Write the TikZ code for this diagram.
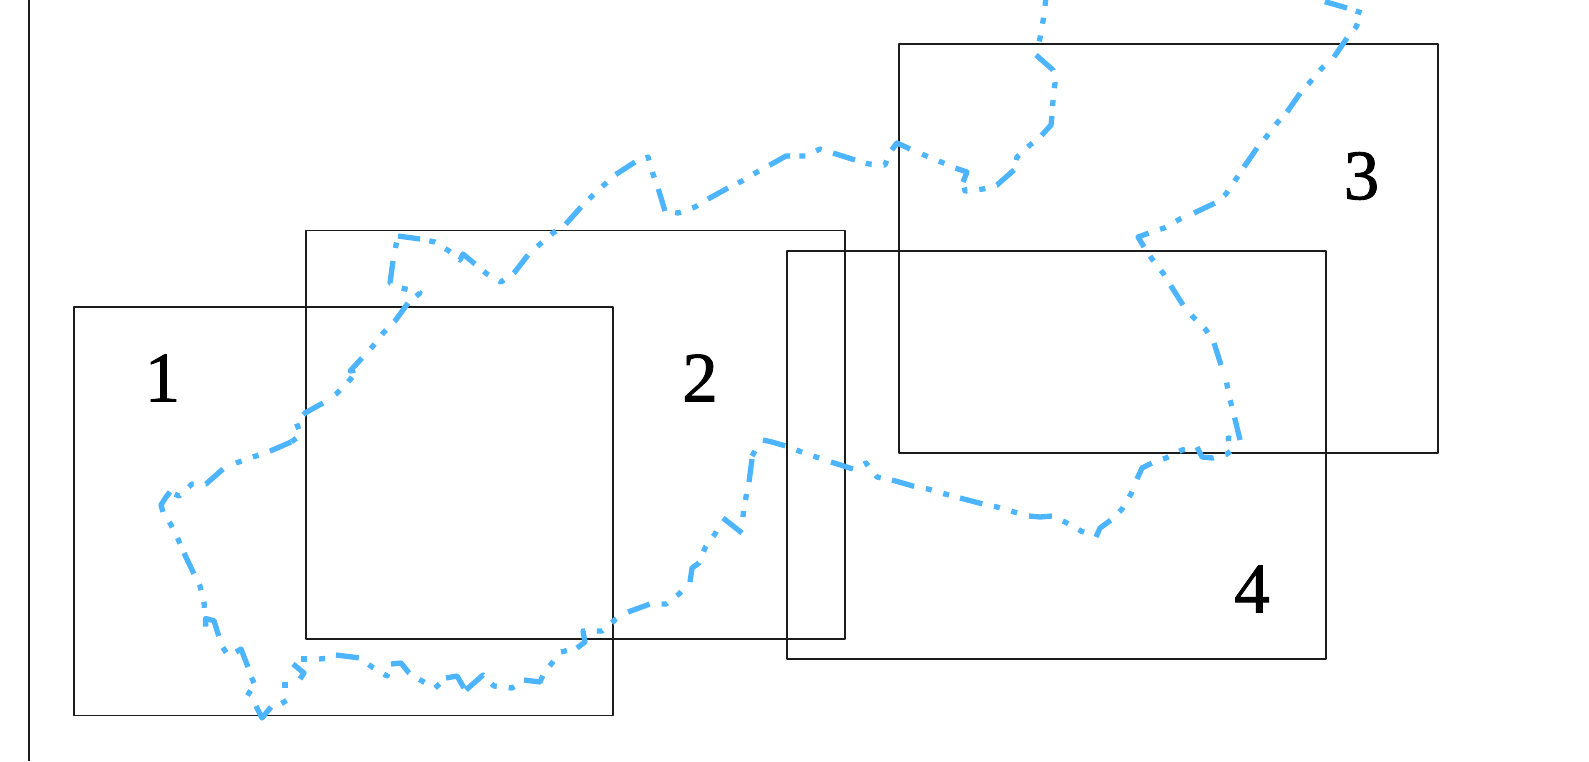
\documentclass[tikz,border=0pt]{standalone}
\usepackage{fontspec}
\setmainfont{Liberation Serif}
\newfontfamily\tagfont[FakeBold=1.2]{Liberation Serif}
\definecolor{trail}{HTML}{4DB5FF}
\definecolor{ink}{HTML}{1C1C1C}
\tikzset{
  win/.style={draw=ink,line width=1.9pt,line join=round,inner sep=0pt,outer sep=0pt,minimum width=539pt,minimum height=408.5pt,anchor=north west},
  tag/.style={font=\tagfont\fontsize{71}{71}\selectfont,text=black,inner sep=0pt},
  tseg/.style={draw=trail,line width=5.3pt,line join=round},
  tl/.style={tseg,dash pattern=on 23pt off 12pt on 6pt off 12pt on 6pt off 400pt}
}
\begin{document}
\begin{tikzpicture}[x=1pt,y=-1pt]
\useasboundingbox (0,0) rectangle (1589,761);
\clip (0,0) rectangle (1589,761);
\fill[white] (0,0) rectangle (1589,761);
\coordinate (axt) at (29.3,0);
\coordinate (axb) at (29.3,761);
\draw[ink,line width=1.8pt] (axt) -- (axb);
\node[win] (r1) at (73.7,307) {};
\node[win] (r2) at (305.7,230.5) {};
\node[win] (r3) at (898.7,44.3) {};
\node[win] (r4) at (786.7,250.7) {};
\node[tag] (l1) at (162.5,378) {1};
\node[tag] (l2) at (700,378) {2};
\node[tag] (l3) at (1361.5,176) {3};
\node[tag] (l4) at (1252,589) {4};
% the trail, one stretch per dash-dot-dot period
\draw[tl] (1047.5,-17) -- (1045,6) -- (1043,21) -- (1040,38) -- (1036,55);
\draw[tl] (1036,55) -- (1053,70) -- (1055,83) -- (1053,100) -- (1052,116);
\draw[tl] (1052,116) -- (1051,125) -- (1041,136) -- (1030,145) -- (1017,157) -- (1014,170);
\draw[tl] (1014,170) -- (997,185) -- (983,189) -- (965,191) -- (963,182);
\draw[tl] (963,182) -- (967,172) -- (955,168) -- (941,162) -- (924,155) -- (910,149);
\draw[tl] (910,149) -- (897,143) -- (890,152) -- (885,165) -- (869,164) -- (855,160);
\draw[tl] (855,160) -- (833,153) -- (820,149) -- (806,156) -- (790,156);
\draw[tl] (790,156) -- (786,156) -- (770,165) -- (757,172) -- (742,181) -- (728,188);
\draw[tl] (728,188) -- (708,199) -- (695,207) -- (678,213) -- (665,211);
\draw[tl] (665,211) -- (658,188) -- (653,174) -- (648,157) -- (635,162);
\draw[tl] (635,162) -- (615,175) -- (604,185) -- (591,197) -- (581,207);
\draw[tl] (581,207) -- (565,225) -- (553,233) -- (539,245) -- (528,255);
\draw[tl] (528,255) -- (514,273) -- (501,282) -- (487,274) -- (475,264);
\draw[tl] (475,264) -- (463,254) -- (460,260) -- (449,251) -- (435,242) -- (420,239);
\draw[tseg] (420,239) -- (398,236);
\draw[tseg] (396.5,242.5) -- (395.5,248);
\draw[tl] (393,261) -- (390,283) -- (401,288) -- (415,291) -- (420,293) -- (408,303);
\draw[tl] (408,303) -- (395,321) -- (384,332) -- (373,346) -- (362,358);
\draw[tl] (362,358) -- (350,371) -- (358,370) -- (348,382) -- (336,394) -- (323,403);
\draw[tl] (323,403) -- (305,413) -- (296,422) -- (301,435) -- (291,442);
\draw[tl] (291,442) -- (283,445.5) -- (268,452) -- (253,457) -- (236,463) -- (223,469);
\draw[tl] (223,469) -- (206,484) -- (192,484) -- (179,496) -- (170,492);
\draw[tl] (170,492) -- (166,497) -- (161,505) -- (163,512) -- (170,523) -- (178,539) -- (184,553);
\draw[tl] (184,553) -- (194,574) -- (200,586) -- (204,602) -- (205.6,626.7);
\draw[tseg] (205.6,626.7) -- (205.6,618.5) -- (214,620.7) -- (218.7,636);
\draw[tseg] (222.8,647.5) -- (226.2,652.5);
\draw[tseg] (236,652) -- (241,649) -- (248,667);
\draw[tseg] (251.5,677.5) -- (254,683);
\draw[tseg] (250.5,690.5) -- (247.5,695.5);
\draw[tseg] (256,706) -- (262,718) -- (271,707);
\draw[tseg] (281.5,703.5) -- (286.5,700.5);
\draw[tseg] (285,682) -- (285,688);
\draw[tseg] (300,679) -- (304,673) -- (293,664);
\draw[tseg] (301,659) -- (307,659);
\draw[tseg] (319,659) -- (325,658.5);
\draw[tl] (336,655) -- (360,658) -- (372,667) -- (387,676) -- (391,664);
\draw[tl] (391,664) -- (401,663) -- (409,673) -- (422,681) -- (435,688) -- (446,678);
\draw[tseg] (446,678) -- (457,676) -- (464,688);
\draw[tl] (466,690) -- (483,675) -- (494,686) -- (512,688) -- (524,680);
\draw[tl] (524,680) -- (540,682) -- (544,673) -- (552,663) -- (561,652) -- (577,648);
\draw[tl] (577,648) -- (585,642) -- (583,631) -- (602,631) -- (616,619) -- (628,612);
\draw[tl] (628,612) -- (650,604) -- (666,604) -- (679,594) -- (690,582);
\draw[tl] (690,582) -- (692,568) -- (699,563) -- (705,548) -- (715,534) -- (723,518);
\draw[tseg] (723,518) -- (742,533);
\draw[tseg] (743.5,511) -- (743,517);
\draw[tseg] (746.5,494) -- (745.5,500);
\draw[tseg] (749,482) -- (752,459);
\draw[tseg] (752,456) -- (755,451);
\draw[tl] (763,440) -- (772,442) -- (786,446) -- (799,451) -- (816,457) -- (831,462);
\draw[tl] (831,462) -- (853,469) -- (866,463) -- (877,477) -- (892,480);
\draw[tl] (892,480) -- (913,486) -- (928,489) -- (945,494) -- (960,498);
\draw[tl] (960,498) -- (983,504) -- (997,507) -- (1014,512) -- (1029,516);
\draw[tl] (1029,516) -- (1040,517) -- (1052,516) -- (1065,522) -- (1081,531) -- (1096,537);
\draw[tl] (1096,537) -- (1100,528) -- (1111,520) -- (1122,509) -- (1131,494) -- (1137,479);
\draw[tl] (1137,479) -- (1142,468) -- (1152,463) -- (1166,458) -- (1182,450) -- (1197,447);
\draw[tl] (1197,447) -- (1202,457) -- (1213,458) -- (1227,454) -- (1232,450) -- (1228,438) -- (1240,440);
\draw[tl] (1240,440) -- (1233,411) -- (1229,396) -- (1226,379) -- (1221,365);
\draw[tl] (1221,365) -- (1214,343) -- (1206,330) -- (1193,317) -- (1183,305);
\draw[tl] (1183,305) -- (1171,286) -- (1163,273) -- (1152,259) -- (1144,247);
\draw[tl] (1144,247) -- (1138,237) -- (1149,233) -- (1164,228) -- (1180,219) -- (1194,213);
\draw[tl] (1194,213) -- (1215,203) -- (1226,194) -- (1236,179) -- (1244,167);
\draw[tl] (1244,167) -- (1257,148) -- (1267,136) -- (1277,123) -- (1287,112);
\draw[tl] (1287,112) -- (1301,92) -- (1311,81) -- (1322,68) -- (1334,57);
\draw[tl] (1334,57) -- (1347,38) -- (1356,27) -- (1362,13) -- (1347,8);
\draw[tl] (1347,8) -- (1326,2) -- (1300,-8);
\end{tikzpicture}
\end{document}
